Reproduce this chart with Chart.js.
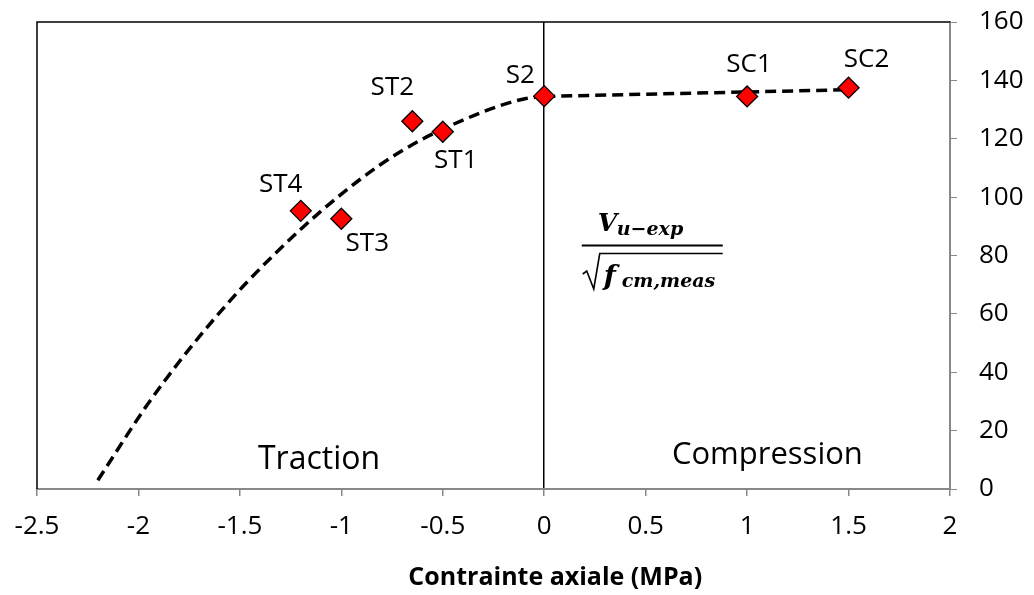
<!DOCTYPE html>
<html>
<head>
<meta charset="utf-8">
<script src="https://cdn.jsdelivr.net/npm/chart.js@4"></script>
<style>
  html, body { margin: 0; padding: 0; background: #fff; }
  #wrap { width: 1034px; height: 595px; }
</style>
</head>
<body>
<div id="wrap"><canvas id="shearChart" width="1034" height="595"></canvas></div>
<script>
// specimens
const specimenNames = ["ST4", "ST3", "ST2", "ST1", "S2", "SC1", "SC2"];
const axialStress = [-1.2, -1.0, -0.65, -0.5, 0, 1.0, 1.5];
const shearRatio = [95.3, 92.6, 126.0, 122.4, 134.6, 134.5, 137.5];

// dashed trend, traction side
const tractionX = [-2.2, -1.96, -1.8, -1.63, -1.47, -1.2, -1.0, -0.81, -0.61, -0.38, -0.22, -0.09, 0];
const tractionY = [3, 28.5, 43.5, 58, 70.5, 89, 101, 111, 119.5, 127, 131.3, 133.8, 134.5];

// dashed trend, compression side
const compressionX = [0, 1.5];
const compressionY = [134.5, 136.8];

const xTicks = { min: -2.5, max: 2, step: 0.5 };
const yTicks = { min: 0, max: 160, step: 20 };

const FONT = "'Open Sans', 'Liberation Sans', sans-serif";

const toPoints = (xs, ys) => xs.map((x, i) => ({ x, y: ys[i] }));

// label offsets (px) around each diamond
const labelOffsets = [[-20, -26], [26, 25], [-20, -34], [13, 29], [-24, -21], [2, -32], [18, -28]];

const overlay = {
    id: "overlay",
    afterDatasetsDraw(chart) {
        const { ctx, chartArea: a, scales } = chart;
        ctx.save();

        // black frame on left and top
        ctx.strokeStyle = "#000";
        ctx.lineWidth = 1.5;
        ctx.beginPath();
        ctx.moveTo(a.left, a.bottom);
        ctx.lineTo(a.left, a.top);
        ctx.lineTo(a.right, a.top);
        ctx.stroke();

        // point labels
        ctx.fillStyle = "#000";
        ctx.font = "26px " + FONT;
        ctx.textAlign = "center";
        ctx.textBaseline = "middle";
        const meta = chart.getDatasetMeta(0);
        meta.data.forEach((pt, i) => {
            const [dx, dy] = labelOffsets[i];
            ctx.fillText(specimenNames[i], pt.x + dx, pt.y + dy);
        });

        // zone labels
        ctx.font = "32px " + FONT;
        ctx.fillText("Traction", scales.x.getPixelForValue(-1.11), a.bottom - 29);
        ctx.font = "31px " + FONT;
        ctx.fillText("Compression", scales.x.getPixelForValue(1.1), a.bottom - 34);

        // formula
        const cx = scales.x.getPixelForValue(0.53);
        const serif = "'DejaVu Serif', 'Liberation Serif', serif";
        ctx.textAlign = "left";
        ctx.textBaseline = "alphabetic";
        ctx.font = "bold italic 25px " + serif;
        ctx.fillText("V", cx - 54, 231);
        ctx.font = "bold italic 19px " + serif;
        ctx.fillText("u\u2212exp", cx - 35, 235);
        ctx.lineWidth = 2;
        ctx.beginPath();
        ctx.moveTo(cx - 70, 245.5);
        ctx.lineTo(cx + 71, 245.5);
        ctx.stroke();
        // radical sign
        ctx.lineWidth = 1.6;
        ctx.beginPath();
        ctx.moveTo(cx - 69, 274);
        ctx.lineTo(cx - 65, 271);
        ctx.lineTo(cx - 58, 289);
        ctx.lineTo(cx - 52, 253.5);
        ctx.lineTo(cx + 71, 253.5);
        ctx.stroke();
        ctx.font = "bold italic 28px " + serif;
        ctx.fillText("f", cx - 48, 285);
        ctx.font = "bold italic 19px " + serif;
        ctx.fillText("cm,meas", cx - 30, 287);

        // axis title
        ctx.font = "bold 25px " + FONT;
        ctx.textAlign = "center";
        ctx.textBaseline = "middle";
        ctx.fillText("Contrainte axiale (MPa)", chart.width * 0.537, 578);

        ctx.restore();
    }
};

new Chart(document.getElementById("shearChart"), {
    type: "scatter",
    data: {
        datasets: [
            {
                label: "Essais",
                data: toPoints(axialStress, shearRatio),
                pointStyle: "rectRot",
                pointRadius: 10.5,
                pointHoverRadius: 10.5,
                backgroundColor: "#ff0000",
                borderColor: "#000",
                borderWidth: 1.3,
                order: 0,
            },
            {
                label: "Traction",
                data: toPoints(tractionX, tractionY),
                showLine: true,
                borderColor: "#000",
                borderWidth: 3.5,
                borderDash: [11, 6],
                cubicInterpolationMode: "monotone",
                pointRadius: 0,
                order: 1,
            },
            {
                label: "Compression",
                data: toPoints(compressionX, compressionY),
                showLine: true,
                borderColor: "#000",
                borderWidth: 3.5,
                borderDash: [11, 6],
                pointRadius: 0,
                order: 1,
            },
        ],
    },
    options: {
        responsive: false,
        animation: false,
        layout: { padding: { left: 37, top: 22, right: 0, bottom: 0 } },
        plugins: {
            legend: { display: false },
            tooltip: { enabled: false },
        },
        scales: {
            x: {
                type: "linear",
                position: "bottom",
                min: xTicks.min,
                max: xTicks.max,
                afterFit: (s) => {
                    s.height = 106;
                    s.paddingLeft = 0;
                    s.paddingRight = 0;
                },
                ticks: {
                    stepSize: xTicks.step,
                    color: "#000",
                    padding: 15,
                    font: { family: FONT, size: 26 },
                    callback: (v) => String(v),
                },
                grid: {
                    color: (c) => (c.tick && c.tick.value === 0 ? "#000" : "rgba(0,0,0,0)"),
                    lineWidth: 1.5,
                    tickColor: "#888",
                    tickLength: 7,
                },
                border: { color: "#888", width: 2 },
            },
            y: {
                type: "linear",
                position: "right",
                min: yTicks.min,
                max: yTicks.max,
                afterFit: (s) => {
                    s.width = 84;
                    s.paddingTop = 0;
                    s.paddingBottom = 0;
                },
                ticks: {
                    stepSize: yTicks.step,
                    color: "#000",
                    padding: 22,
                    font: { family: FONT, size: 26 },
                },
                grid: {
                    drawOnChartArea: false,
                    tickColor: "#888",
                    tickLength: 7,
                },
                border: { color: "#888", width: 2 },
            },
        },
    },
    plugins: [overlay],
});
</script>
</body>
</html>
